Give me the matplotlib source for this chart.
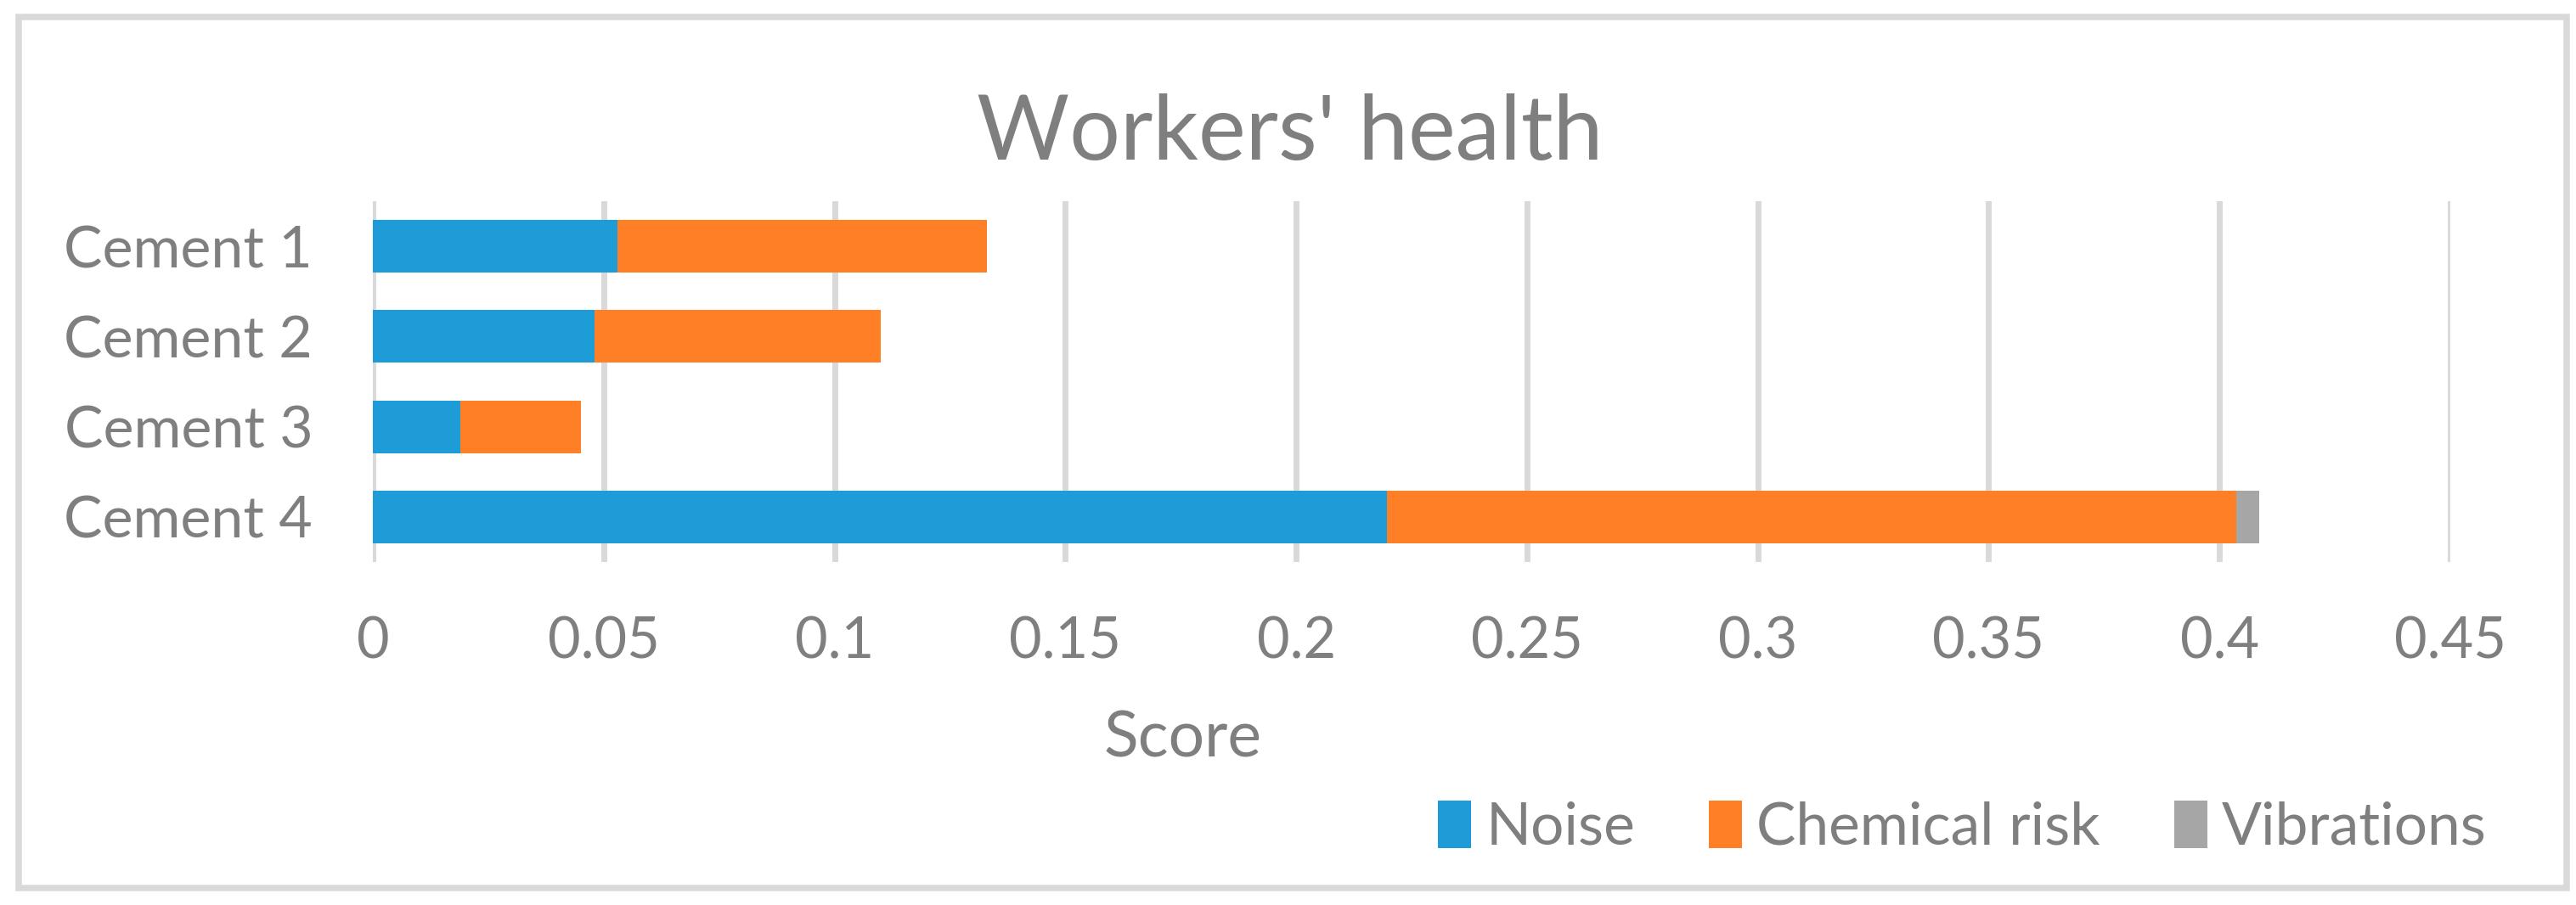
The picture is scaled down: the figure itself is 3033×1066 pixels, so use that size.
import matplotlib.pyplot as plt
from matplotlib.patches import Rectangle
import numpy as np

# Data
cements = ['Cement 1', 'Cement 2', 'Cement 3', 'Cement 4']
noise = [0.053, 0.048, 0.019, 0.2196]
chemical = [0.080, 0.062, 0.026, 0.184]
vibrations = [0.0, 0.0, 0.0, 0.005]
series_names = ['Noise', 'Chemical risk', 'Vibrations']
series_colors = ['#1e9cd8', '#ff7f27', '#a6a6a6']
xticks = [0, 0.05, 0.1, 0.15, 0.2, 0.25, 0.3, 0.35, 0.4, 0.45]

txt = '#7f7f7f'
grid = '#d9d9d9'
plt.rcParams['font.family'] = ['Lato', 'DejaVu Sans']

fig = plt.figure(figsize=(30.33, 10.66), dpi=100)
ax = fig.add_axes([439 / 3033, 1 - 662 / 1066, (2885 - 439) / 3033, (662 - 237) / 1066])

y = np.arange(len(cements))
left = np.zeros(len(cements))
for vals, name, col in zip([noise, chemical, vibrations], series_names, series_colors):
    ax.barh(y, vals, left=left, height=0.585, color=col, label=name, zorder=3)
    left = left + np.array(vals)

ax.set_ylim(3.5, -0.5)
ax.set_xlim(0, 0.45)
ax.set_yticks(y)
ax.set_yticklabels(cements)
ax.set_xticks(xticks)
ax.set_xticklabels(['0' if t == 0 else ('%g' % t) for t in xticks])
ax.tick_params(axis='both', length=0, colors=txt)
ax.tick_params(axis='y', labelsize=49, pad=51)
ax.tick_params(axis='x', labelsize=48, pad=46)
ax.grid(axis='x', color=grid, linewidth=5, zorder=0)
ax.grid(axis='y', visible=False)
for s in ax.spines.values():
    s.set_visible(False)

fig.text(1519 / 3033, 1 - 158 / 1066, "Workers' health", ha='center', va='center',
         fontsize=76, color=txt)
fig.text(1393 / 3033, 1 - 870 / 1066, 'Score', ha='center', va='center',
         fontsize=54, color=txt)

fig.legend(loc='center right', bbox_to_anchor=(2928 / 3033, 1 - 975 / 1066), ncol=3,
           frameon=False, fontsize=50, labelcolor=txt, handlelength=0.56, handleheight=0.85,
           handletextpad=0.25, columnspacing=1.25, borderpad=0, borderaxespad=0)

fig.patches.append(Rectangle((21.5 / 3033, 1 - 1045.5 / 1066), (3022 - 21.5) / 3033,
                             (1045.5 - 20) / 1066, transform=fig.transFigure,
                             fill=False, edgecolor=grid, linewidth=5.4))

fig.savefig('out.png', dpi=100)
